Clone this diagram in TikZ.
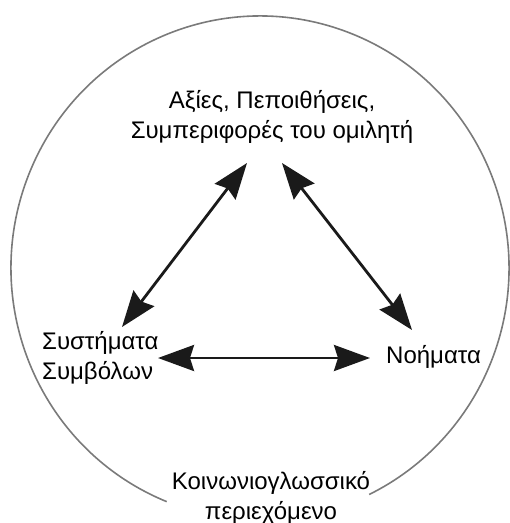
\documentclass[tikz,border=0pt]{standalone}
\usepackage{fontspec}
\setmainfont{Liberation Sans}
\usetikzlibrary{arrows.meta}
\definecolor{ringgray}{HTML}{7A7A7A}
\definecolor{arrowdark}{HTML}{1A1A1A}
\begin{document}
\begin{tikzpicture}[x=1pt,y=-1pt,
  lbl/.style={inner sep=0pt, font=\fontsize{24}{30.5}\selectfont, text=black},
  ring/.style={draw=ringgray, line width=1.6pt},
  dblarrow/.style={draw=arrowdark, line width=2.8pt,
    {Stealth[length=36pt,width=26pt,inset=4pt]}-{Stealth[length=36pt,width=26pt,inset=4pt]}}]
\useasboundingbox (0,0) rectangle (510,523);
% outer ring with a gap at the bottom for the label
\draw[ring] (260,268) ++(112:249 and 252)
  arc[start angle=112, end angle=424, x radius=249, y radius=252];
% labels
\node[lbl, align=center] (top) at (272,117) {Αξίες, Πεποιθήσεις,\\Συμπεριφορές του ομιλητή};
\node[lbl, align=left, anchor=west] (sym) at (42,358) {Συστήματα\\Συμβόλων};
\node[lbl, anchor=west] (mean) at (386,357) {Νοήματα};
\node[lbl, align=center] (ctx) at (271,498) {Κοινωνιογλωσσικό\\περιεχόμενο};
% arrow end points
\coordinate (tl) at (247,163);
\coordinate (tr) at (282,163);
\coordinate (sl) at (122,327);
\coordinate (sr) at (158,358);
\coordinate (ml) at (370,358);
\coordinate (mt) at (412,330);
\draw[dblarrow] (tl) -- (sl);
\draw[dblarrow] (tr) -- (mt);
\draw[dblarrow] (sr) -- (ml);
\end{tikzpicture}
\end{document}
